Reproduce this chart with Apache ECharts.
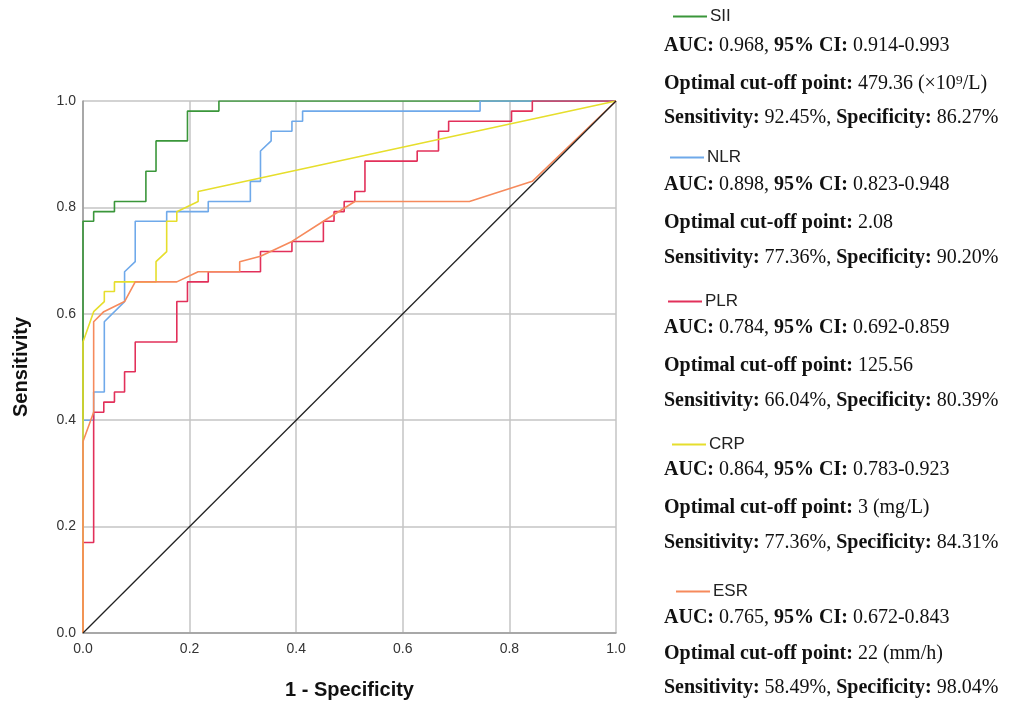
<!DOCTYPE html>
<html><head><meta charset="utf-8">
<script src="https://cdn.jsdelivr.net/npm/echarts@6/dist/echarts.min.js"></script>
<style>html,body{margin:0;padding:0;background:#fff}#c{width:1017px;height:705px}</style>
</head><body><div id="c"></div>
<script>
// 1 - Specificity (x) and Sensitivity (y) points for each ROC curve
const siiX = [0,0,0.02,0.02,0.059,0.059,0.118,0.118,0.137,0.137,0.196,0.196,0.255,0.255,1];
const siiY = [0,0.774,0.774,0.792,0.792,0.811,0.811,0.868,0.868,0.925,0.925,0.981,0.981,1,1];

const nlrX = [0,0,0.02,0.02,0.04,0.04,0.078,0.078,0.098,0.098,0.157,0.157,0.235,0.235,0.314,0.314,0.333,0.333,0.353,0.353,0.392,0.392,0.412,0.412,0.745,0.745,1];
const nlrY = [0,0.40,0.40,0.453,0.453,0.585,0.623,0.679,0.698,0.774,0.774,0.792,0.792,0.811,0.811,0.849,0.849,0.906,0.925,0.943,0.943,0.962,0.962,0.981,0.981,1,1];

const plrX = [0,0,0.02,0.02,0.039,0.039,0.059,0.059,0.078,0.078,0.098,0.098,0.176,0.176,0.196,0.196,0.235,0.235,0.333,0.333,0.392,0.392,0.451,0.451,0.471,0.471,0.49,0.49,0.51,0.51,0.529,0.529,0.627,0.627,0.667,0.667,0.686,0.686,0.804,0.804,0.843,0.843,1];
const plrY = [0,0.17,0.17,0.415,0.415,0.434,0.434,0.453,0.453,0.491,0.491,0.547,0.547,0.623,0.623,0.66,0.66,0.679,0.679,0.717,0.717,0.736,0.736,0.774,0.774,0.792,0.792,0.811,0.811,0.83,0.83,0.887,0.887,0.906,0.906,0.943,0.943,0.962,0.962,0.981,0.981,1,1];

const crpX = [0,0,0.02,0.04,0.04,0.059,0.059,0.137,0.137,0.157,0.157,0.176,0.176,0.216,0.216,1];
const crpY = [0,0.547,0.604,0.623,0.642,0.642,0.66,0.66,0.698,0.717,0.774,0.774,0.792,0.811,0.83,1];

const esrX = [0,0,0.02,0.02,0.039,0.078,0.098,0.176,0.216,0.294,0.294,0.333,0.392,0.451,0.51,0.725,0.843,1];
const esrY = [0,0.36,0.415,0.585,0.604,0.623,0.66,0.66,0.679,0.679,0.698,0.708,0.736,0.774,0.811,0.811,0.849,1];

const refX = [0,1];
const refY = [0,1];

const tickValues = [0,0.2,0.4,0.6,0.8,1.0];

const names = ['SII','NLR','PLR','CRP','ESR'];
const colors = ['#3a963a','#6fa9ea','#e2305a','#e6de2c','#f68a5c'];
const aucText = [
 ['0.968','0.914-0.993','479.36 (×10⁹/L)','92.45%','86.27%'],
 ['0.898','0.823-0.948','2.08','77.36%','90.20%'],
 ['0.784','0.692-0.859','125.56','66.04%','80.39%'],
 ['0.864','0.783-0.923','3 (mg/L)','77.36%','84.31%'],
 ['0.765','0.672-0.843','22 (mm/h)','58.49%','98.04%']
];

const zip = (xs, ys) => xs.map((x, i) => [x, ys[i]]);
const curves = [zip(siiX, siiY), zip(nlrX, nlrY), zip(plrX, plrY), zip(crpX, crpY), zip(esrX, esrY)];

// layout of the annotation blocks (pixel rows)
const legendTops = [18, 159, 303, 446, 593];
const rowYs = [[47,85,119],[186,224,259],[329,367,402],[471,509,544],[619,655,689]];
const legendLeft = [673, 670, 668, 672, 676];

const chart = echarts.init(document.getElementById('c'), null, {renderer:'canvas'});

const series = curves.map((d, i) => ({
  name: names[i], type: 'line', data: d, showSymbol: false, symbol: 'none',
  lineStyle: {color: colors[i], width: 1.6}, itemStyle: {color: colors[i]},
  animation: false, z: 2 + i
}));
series.push({
  name: 'ref', type: 'line', data: zip(refX, refY), showSymbol: false, symbol: 'none',
  lineStyle: {color: '#222', width: 1.3}, animation: false, z: 10
});

const legends = names.map((n, i) => ({
  data: [n], left: legendLeft[i], top: legendTops[i] - 10, orient: 'horizontal',
  icon: 'rect', itemWidth: 34, itemHeight: 2, itemGap: 4, padding: 0,
  textStyle: {fontFamily: 'Liberation Sans, Arial, sans-serif', fontSize: 17, color: '#222', padding: [0,0,0,-2]},
  selectedMode: false
}));

const serif = 'Liberation Serif, Times New Roman, serif';
const fs = 20;
const graphics = [];
aucText.forEach((t, i) => {
  const ys = rowYs[i];
  const base = {fontFamily: serif, fontSize: fs, fill: '#111',
    rich: {b: {fontWeight: 'bold', fontFamily: serif, fontSize: fs, fill: '#111'}}};
  graphics.push({type: 'text', left: 664, top: ys[0] - 11, style: Object.assign({}, base, {text: '{b|AUC:} ' + t[0] + ', {b|95% CI:} ' + t[1]})});
  graphics.push({type: 'text', left: 664, top: ys[1] - 11, style: Object.assign({}, base, {text: '{b|Optimal cut-off point:} ' + t[2]})});
  graphics.push({type: 'text', left: 664, top: ys[2] - 11, style: Object.assign({}, base, {text: '{b|Sensitivity:} ' + t[3] + ', {b|Specificity:} ' + t[4]})});
});

chart.setOption({
  backgroundColor: '#fff',
  animation: false,
  grid: {left: 83, top: 101, width: 533, height: 532, containLabel: false},
  legend: legends,
  xAxis: {
    type: 'value', min: 0, max: 1, interval: 0.2,
    name: '1 - Specificity', nameLocation: 'middle', nameGap: 47,
    nameTextStyle: {fontFamily: 'Liberation Sans, Arial, sans-serif', fontSize: 20, fontWeight: 'bold', color: '#111'},
    axisLine: {lineStyle: {color: '#9a9a9a', width: 1.5}},
    axisTick: {show: false},
    axisLabel: {fontFamily: 'Liberation Sans, Arial, sans-serif', fontSize: 14, color: '#333', margin: 9,
      formatter: v => tickValues.includes(+v.toFixed(1)) ? v.toFixed(1) : ''},
    splitLine: {show: true, lineStyle: {color: '#c4c4c4', width: 1.5}}
  },
  yAxis: {
    type: 'value', min: 0, max: 1, interval: 0.2,
    name: 'Sensitivity', nameLocation: 'middle', nameGap: 52, nameRotate: 90,
    nameTextStyle: {fontFamily: 'Liberation Sans, Arial, sans-serif', fontSize: 20, fontWeight: 'bold', color: '#111'},
    axisLine: {show: true, lineStyle: {color: '#9a9a9a', width: 1.5}},
    axisTick: {show: false},
    axisLabel: {fontFamily: 'Liberation Sans, Arial, sans-serif', fontSize: 14, color: '#333', margin: 7,
      formatter: v => v.toFixed(1)},
    splitLine: {show: true, lineStyle: {color: '#c4c4c4', width: 1.5}}
  },
  graphic: graphics,
  series: series
});
</script>
</body></html>
